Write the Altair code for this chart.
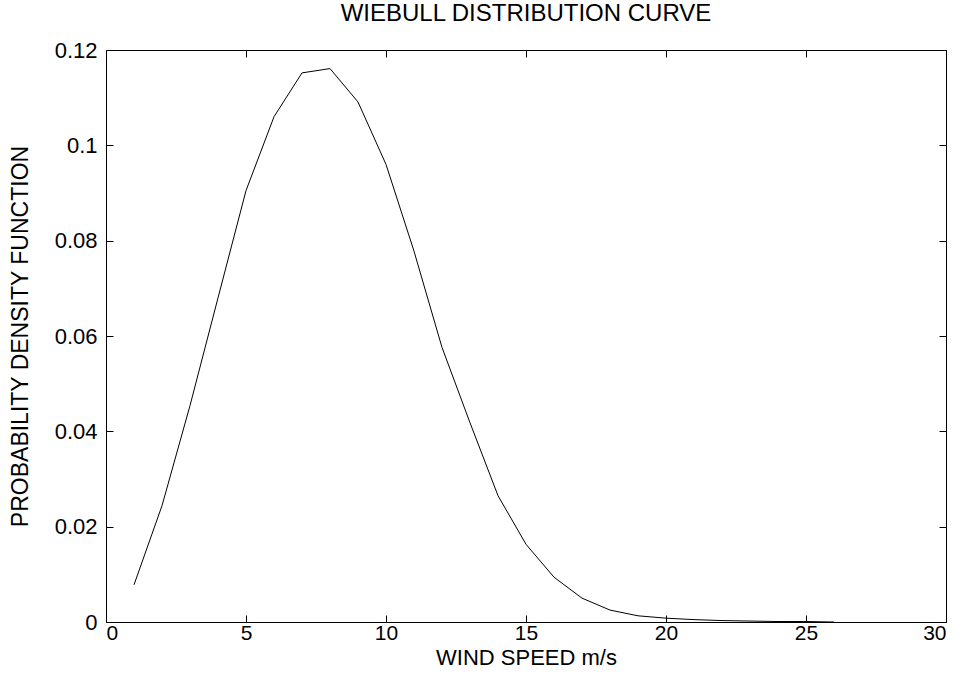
import altair as alt
import pandas as pd

wind_speed = list(range(1, 27))
pdf_values = [0.0078, 0.0244, 0.0454, 0.0680, 0.0905, 0.1060, 0.1152, 0.1161,
              0.1091, 0.0960, 0.0778, 0.0576, 0.0418, 0.0265, 0.0163, 0.0094,
              0.0050, 0.0025, 0.0013, 0.0008, 0.0005, 0.0003, 0.0002, 0.0001,
              0.0001, 0.0000]
x_ticks = [0, 5, 10, 15, 20, 25, 30]
y_ticks = [0, 0.02, 0.04, 0.06, 0.08, 0.1, 0.12]

df = pd.DataFrame({"ws": wind_speed, "pdf": pdf_values})

W, H = 840, 572
FONT = "Liberation Sans"

xscale = alt.Scale(domain=[0, 30], nice=False, zero=False)
yscale = alt.Scale(domain=[0, 0.12], nice=False)

def layer(xaxis, yaxis, opacity):
    return alt.Chart(df).mark_line(color="black", strokeWidth=1, opacity=opacity).encode(
        x=alt.X("ws:Q", scale=xscale, axis=xaxis),
        y=alt.Y("pdf:Q", scale=yscale, axis=yaxis),
    )

main = layer(
    alt.Axis(orient="bottom", values=x_ticks, ticks=False, tickSize=0, domain=False,
             labelPadding=0, labelFontSize=21, title="WIND SPEED m/s",
             titleFontSize=22, titlePadding=4, titleFontWeight="normal"),
    alt.Axis(orient="left", values=y_ticks, ticks=False, tickSize=0, domain=False,
             labelPadding=9, labelFontSize=22, format=".2~f",
             title="PROBABILITY DENSITY FUNCTION", titleFontSize=23,
             titlePadding=22, titleFontWeight="normal"),
    1,
)
inner1 = layer(
    alt.Axis(orient="top", offset=-H, values=x_ticks, labels=False, domain=False,
             ticks=True, tickSize=7, title=None),
    alt.Axis(orient="right", offset=-W, values=y_ticks, labels=False, domain=False,
             ticks=True, tickSize=7, title=None),
    0,
)
inner2 = layer(
    alt.Axis(orient="bottom", offset=-H, values=x_ticks, labels=False, domain=False,
             ticks=True, tickSize=7, title=None),
    alt.Axis(orient="left", offset=-W, values=y_ticks, labels=False, domain=False,
             ticks=True, tickSize=7, title=None),
    0,
)

chart = alt.layer(main, inner1, inner2).resolve_axis(
    x="independent", y="independent"
).properties(
    width=W, height=H,
    title=alt.TitleParams("WIEBULL DISTRIBUTION CURVE", fontSize=24,
                          fontWeight="normal", font=FONT, color="black",
                          anchor="middle", offset=13),
    autosize=alt.AutoSizeParams(type="none"),
    padding={"left": 106, "top": 50, "right": 24, "bottom": 54},
    background="white",
).configure_axis(
    grid=False, labelFont=FONT, titleFont=FONT, labelColor="black",
    titleColor="black", tickColor="black", tickWidth=1,
).configure_view(
    stroke="black", strokeWidth=1,
)

chart.save("out.html", embed_options={"renderer": "svg", "actions": False})
